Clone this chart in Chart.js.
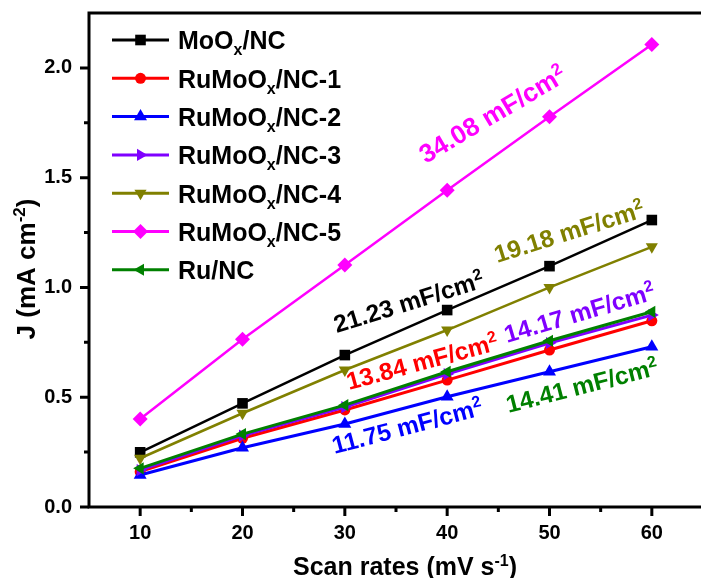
<!DOCTYPE html>
<html>
<head>
<meta charset="utf-8">
<script src="https://cdn.jsdelivr.net/npm/chart.js@4.4.0/dist/chart.umd.min.js"></script>
<style>
  html, body { margin: 0; padding: 0; background: #fff; overflow: hidden; }
  #wrap { width: 720px; height: 578px; }
</style>
</head>
<body>
<div id="wrap"><canvas id="cv" width="720" height="578"></canvas></div>
<script>
// scan rate (mV/s) vs current density J (mA/cm2)
const scanRates = [10, 20, 30, 40, 50, 60];
const moNC  = [0.249, 0.472, 0.692, 0.897, 1.097, 1.307];
const ruMo1 = [0.161, 0.313, 0.442, 0.578, 0.715, 0.848];
const ruMo2 = [0.146, 0.270, 0.378, 0.502, 0.616, 0.730];
const ruMo3 = [0.168, 0.325, 0.455, 0.606, 0.747, 0.874];
const ruMo4 = [0.222, 0.427, 0.624, 0.806, 1.000, 1.185];
const ruMo5 = [0.401, 0.764, 1.102, 1.443, 1.777, 2.107];
const ruNC  = [0.176, 0.332, 0.464, 0.616, 0.757, 0.889];

// Cdl values written next to each line
const cdlValues = ['21.23', '13.84', '11.75', '14.17', '19.18', '34.08', '14.41'];

const xTicks = [10, 20, 30, 40, 50, 60];
const xMinor = [15, 25, 35, 45, 55];
const yTicks = [0, 0.5, 1.0, 1.5, 2.0];
const yMinor = [0.25, 0.75, 1.25, 1.75];

const FONT = '"Liberation Sans", Arial, Helvetica, sans-serif';

// name parts: [text, '' | 'sub' | 'sup']
const names = [
  [['MoO', ''], ['x', 'sub'], ['/NC', '']],
  [['RuMoO', ''], ['x', 'sub'], ['/NC-1', '']],
  [['RuMoO', ''], ['x', 'sub'], ['/NC-2', '']],
  [['RuMoO', ''], ['x', 'sub'], ['/NC-3', '']],
  [['RuMoO', ''], ['x', 'sub'], ['/NC-4', '']],
  [['RuMoO', ''], ['x', 'sub'], ['/NC-5', '']],
  [['Ru/NC', '']]
];
const series = [moNC, ruMo1, ruMo2, ruMo3, ruMo4, ruMo5, ruNC];
const colors = ['#000000', '#ff0000', '#0000ff', '#7f00ff', '#808000', '#ff00ff', '#008000'];
const markers = [
  { style: 'rect', rot: 0, r: 7.5, lw: 2.5 },
  { style: 'circle', rot: 0, r: 5.5, lw: 3 },
  { style: 'triangle', rot: 0, r: 7.5, lw: 3 },
  { style: 'triangle', rot: 90, r: 7, lw: 3 },
  { style: 'triangle', rot: 180, r: 7, lw: 2.5 },
  { style: 'rectRot', rot: 0, r: 7.5, lw: 2.5 },
  { style: 'triangle', rot: -90, r: 7, lw: 3 }
];

// where each Cdl label starts (data coords), its tilt in degrees and font size
const cdlPlace = [
  { x: 29.2, y: 0.792, a: -17.2, fs: 24.5 },
  { x: 30.4, y: 0.533, a: -15, fs: 24.5 },
  { x: 29.0, y: 0.241, a: -14.8, fs: 24.5 },
  { x: 45.85, y: 0.747, a: -16.5, fs: 24.5 },
  { x: 44.9, y: 1.111, a: -17.5, fs: 24.5 },
  { x: 37.9, y: 1.562, a: -30.5, fs: 26 },
  { x: 46.0, y: 0.428, a: -14.3, fs: 24.5 }
];

function drawRich(ctx, parts, x, y, size) {
  let cx = x;
  parts.forEach(([t, m]) => {
    const s = m ? Math.round(size * 0.64) : size;
    ctx.font = `bold ${s}px ${FONT}`;
    const dy = m === 'sup' ? -size * 0.37 : (m === 'sub' ? size * 0.24 : 0);
    ctx.fillText(t, cx, y + dy);
    cx += ctx.measureText(t).width;
  });
  return cx - x;
}

function richWidth(ctx, parts, size) {
  let w = 0;
  parts.forEach(([t, m]) => {
    const s = m ? Math.round(size * 0.64) : size;
    ctx.font = `bold ${s}px ${FONT}`;
    w += ctx.measureText(t).width;
  });
  return w;
}

function marker(ctx, m, x, y, color) {
  ctx.fillStyle = color;
  ctx.strokeStyle = color;
  if (Chart.helpers && Chart.helpers.drawPoint) {
    Chart.helpers.drawPoint(ctx, { pointStyle: m.style, rotation: m.rot, radius: m.r, borderWidth: 0 }, x, y);
  } else {
    ctx.fillRect(x - m.r * 0.7, y - m.r * 0.7, m.r * 1.4, m.r * 1.4);
  }
}

const framePlugin = {
  id: 'frame',
  beforeDatasetsDraw(chart) {
    const { ctx, chartArea: a, scales } = chart;
    ctx.save();
    ctx.strokeStyle = '#000';
    ctx.lineWidth = 3;
    ctx.lineCap = 'square';
    ctx.strokeRect(a.left, a.top, a.right - a.left, a.bottom - a.top);
    ctx.lineCap = 'butt';
    ctx.beginPath();
    xTicks.forEach(v => { const p = scales.x.getPixelForValue(v); ctx.moveTo(p, a.bottom); ctx.lineTo(p, a.bottom + 9); });
    xMinor.forEach(v => { const p = scales.x.getPixelForValue(v); ctx.moveTo(p, a.bottom); ctx.lineTo(p, a.bottom + 5); });
    yTicks.forEach(v => { const p = scales.y.getPixelForValue(v); ctx.moveTo(a.left, p); ctx.lineTo(a.left - 9, p); });
    yMinor.forEach(v => { const p = scales.y.getPixelForValue(v); ctx.moveTo(a.left, p); ctx.lineTo(a.left - 5, p); });
    ctx.stroke();
    ctx.restore();
  },
  afterDatasetsDraw(chart) {
    const { ctx, scales } = chart;
    ctx.save();
    ctx.textAlign = 'left';
    ctx.textBaseline = 'alphabetic';

    // legend
    names.forEach((parts, i) => {
      const cy = 40 + i * 38.3;
      ctx.strokeStyle = colors[i];
      ctx.lineWidth = 3;
      ctx.beginPath();
      ctx.moveTo(112, cy);
      ctx.lineTo(169, cy);
      ctx.stroke();
      marker(ctx, markers[i], 140.5, cy, colors[i]);
      ctx.fillStyle = '#000';
      drawRich(ctx, parts, 178, cy + 9.3, 25);
    });

    // Cdl labels
    cdlValues.forEach((v, i) => {
      const pl = cdlPlace[i];
      const px = scales.x.getPixelForValue(pl.x);
      const py = scales.y.getPixelForValue(pl.y);
      ctx.save();
      ctx.translate(px, py);
      ctx.rotate(pl.a * Math.PI / 180);
      ctx.fillStyle = colors[i];
      drawRich(ctx, [[v + ' mF/cm', ''], ['2', 'sup']], 0, 0, pl.fs);
      ctx.restore();
    });

    // axis titles
    ctx.fillStyle = '#000';
    const xt = [['Scan rates (mV s', ''], ['-1', 'sup'], [')', '']];
    const xw = richWidth(ctx, xt, 25);
    drawRich(ctx, xt, 405 - xw / 2, 575, 25);

    const yt = [['J (mA cm', ''], ['-2', 'sup'], [')', '']];
    const yw = richWidth(ctx, yt, 26);
    ctx.save();
    ctx.translate(35, 269);
    ctx.rotate(-Math.PI / 2);
    drawRich(ctx, yt, -yw / 2, 0, 26);
    ctx.restore();

    ctx.restore();
  }
};

const datasets = series.map((vals, i) => ({
  label: names[i].map(p => p[0]).join(''),
  data: scanRates.map((x, k) => ({ x: x, y: vals[k] })),
  borderColor: colors[i],
  backgroundColor: colors[i],
  borderWidth: markers[i].lw,
  pointStyle: markers[i].style,
  pointRotation: markers[i].rot,
  pointRadius: markers[i].r,
  pointBorderWidth: 0,
  tension: 0,
  fill: false,
  order: series.length - i
}));

const tickFont = { family: FONT, size: 20, weight: 'bold' };

new Chart(document.getElementById('cv'), {
  type: 'line',
  data: { datasets },
  options: {
    responsive: false,
    animation: false,
    devicePixelRatio: 1,
    layout: { padding: { top: 13, right: 17, left: 0, bottom: 0 } },
    plugins: { legend: { display: false }, tooltip: { enabled: false } },
    scales: {
      x: {
        type: 'linear', min: 5, max: 65,
        afterBuildTicks: s => { s.ticks = xTicks.map(v => ({ value: v })); },
        afterFit: s => { s.height = 71; s.paddingLeft = 0; s.paddingRight = 0; },
        grid: { display: false, drawTicks: false, tickLength: 0 },
        border: { display: false },
        ticks: { color: '#000', font: tickFont, padding: 14, maxRotation: 0, autoSkip: false, callback: v => String(v) }
      },
      y: {
        type: 'linear', min: 0, max: 2.25,
        afterBuildTicks: s => { s.ticks = yTicks.map(v => ({ value: v })); },
        afterFit: s => { s.width = 89; s.paddingTop = 0; s.paddingBottom = 0; },
        grid: { display: false, drawTicks: false, tickLength: 0 },
        border: { display: false },
        ticks: { color: '#000', font: tickFont, padding: 17, autoSkip: false, callback: v => v.toFixed(1) }
      }
    }
  },
  plugins: [framePlugin]
});
</script>
</body>
</html>
